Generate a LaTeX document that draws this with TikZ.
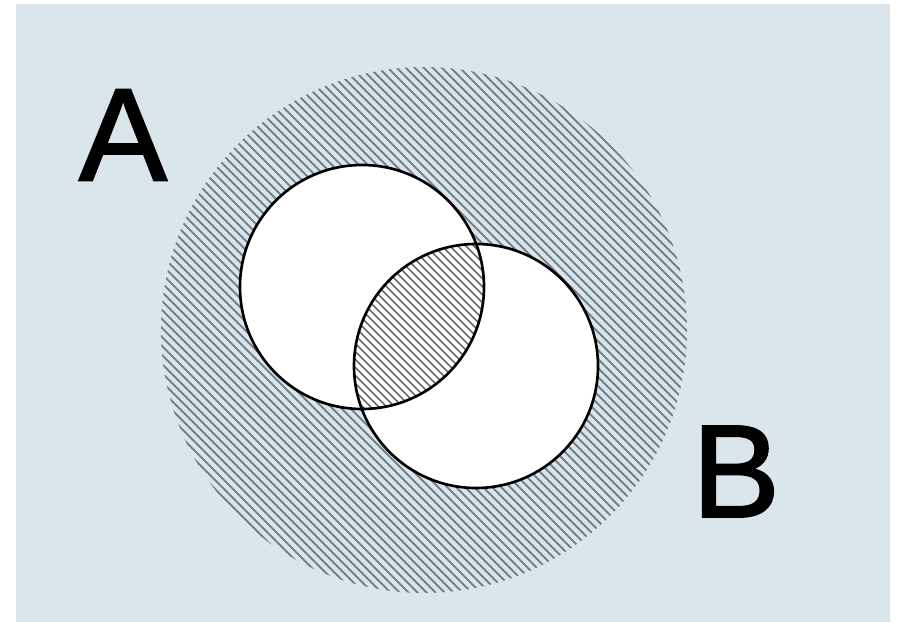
\documentclass[tikz,border=0pt]{standalone}
\usepackage{fontspec}
\setmainfont{Liberation Sans}
\newfontfamily\labelfont[FakeBold=1.6]{Liberation Sans}
\definecolor{paper}{HTML}{DAE6EC}
\definecolor{hatchgrey}{HTML}{72838A}
\definecolor{lensgrey}{HTML}{5A5F62}
\begin{document}
\begin{tikzpicture}[thick, every node/.style={font=\labelfont\fontsize{75}{75}\selectfont}]
        \useasboundingbox (0,0) rectangle (17.98,12.44);
        \fill[paper] (0.32,0) rectangle (17.8,12.36);
        % universe, hatched
        \begin{scope}
            \clip (8.48,5.84) circle (5.26);
            \foreach \c in {5.6,5.78,...,22.2}
                \draw[hatchgrey, line width=1.1pt] (\c-11,12) -- (\c+1,0);
        \end{scope}
        \fill[white] (7.24,6.70) circle (2.44);
        \fill[white] (9.52,5.12) circle (2.44);
        % A and B, hatched
        \begin{scope}
            \clip (7.24,6.70) circle (2.44);
            \clip (9.52,5.12) circle (2.44);
            \foreach \c in {5.6,5.76,...,22.2}
                \draw[lensgrey, line width=0.8pt] (\c-11,12) -- (\c+1,0);
        \end{scope}
        \draw[line width=1.5pt] (7.24,6.70) circle (2.44);
        \draw[line width=1.5pt] (9.52,5.12) circle (2.44);
        \node (labelA) at (2.46,9.74) {A};
        \node (labelB) at (14.72,3.01) {B};
    \end{tikzpicture}
\end{document}
